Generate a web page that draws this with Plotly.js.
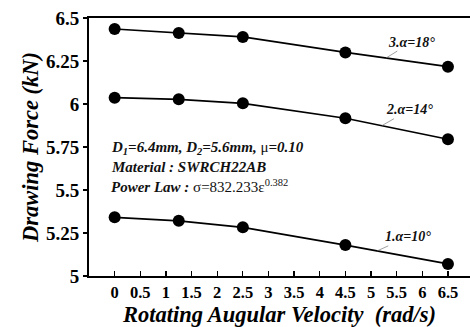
<!DOCTYPE html>
<html>
<head>
<meta charset="utf-8">
<script src="https://cdn.plot.ly/plotly-3.0.1.min.js"></script>
<style>html,body{margin:0;padding:0;background:#fff;}#chart{width:470px;height:327px;}</style>
</head>
<body>
<div id="chart"></div>
<script>
const velocity = [0, 1.25, 2.5, 4.5, 6.5];
const force10 = [5.341, 5.321, 5.283, 5.180, 5.070];
const force14 = [6.037, 6.027, 6.004, 5.917, 5.795];
const force18 = [6.436, 6.413, 6.390, 6.300, 6.217];
const seriesNames = ["1.α=10°", "2.α=14°", "3.α=18°"];
const xTicks = [0, 0.5, 1, 1.5, 2, 2.5, 3, 3.5, 4, 4.5, 5, 5.5, 6, 6.5];
const yTicks = [5, 5.25, 5.5, 5.75, 6, 6.25, 6.5];
const yTickText = ["5", "5.25", "5.5", "5.75", "6", "6.25", "6.5"];
const labelAnchors = [[5.12, 5.146], [5.21, 5.874], [5.29, 6.267]];
const labelOffsets = [[31, -14], [28, -16], [26, -16]];

const serif = "Liberation Serif";
const mk = (y, name) => ({
  x: velocity, y: y, name: name, type: "scatter", mode: "lines+markers",
  line: {color: "#000", width: 1.7},
  marker: {color: "#000", size: 12},
  showlegend: false
});
const data = [mk(force10, seriesNames[0]), mk(force14, seriesNames[1]), mk(force18, seriesNames[2])];

const plotL = 89, plotT = 18, plotB = 276, plotR = 470;
const annotations = [];
labelAnchors.forEach((p, i) => {
  annotations.push({
    x: p[0], y: p[1], xref: "x", yref: "y",
    text: "<b><i>" + seriesNames[i] + "</i></b>",
    showarrow: true, arrowhead: 0, arrowwidth: 0.7, arrowcolor: "#777",
    ax: labelOffsets[i][0], ay: labelOffsets[i][1], xanchor: "center", yanchor: "middle",
    font: {family: serif, size: 14, color: "#111"}
  });
});
const infoLines = [
  "<b><i>D<sub>1</sub>=6.4mm, D<sub>2</sub>=5.6mm, </i></b>μ<b><i>=0.10</i></b>",
  "<b><i>Material : SWRCH22AB</i></b>",
  "<b><i>Power Law : </i></b>σ=832.233ε<sup>0.382</sup>"
];
const infoY = [148, 167, 186];
infoLines.forEach((t, i) => {
  annotations.push({
    x: (109 - plotL) / (plotR - plotL), y: (plotB - infoY[i]) / (plotB - plotT),
    xref: "paper", yref: "paper",
    text: t, showarrow: false, xanchor: "left", yanchor: "middle",
    font: {family: serif, size: 15, color: "#111"}
  });
});

const layout = {
  width: 470, height: 327,
  margin: {l: plotL, r: 470 - plotR, t: plotT, b: 327 - plotB},
  paper_bgcolor: "#fff", plot_bgcolor: "#fff",
  font: {family: serif, color: "#000"},
  xaxis: {
    range: [-0.5, 6.93], tickvals: xTicks, ticktext: xTicks.map(v => "<b>" + v + "</b>"),
    showgrid: false, zeroline: false,
    showline: true, linecolor: "#000", linewidth: 2, mirror: true,
    ticks: "inside", ticklen: 5, tickwidth: 1.3, tickcolor: "#000",
    tickfont: {family: serif, size: 16.5, color: "#000"},
    title: {text: "<b><i>Rotating Augular Velocity  (rad/s)</i></b>", font: {family: serif, size: 22.5, color: "#000"}, standoff: 0}
  },
  yaxis: {
    range: [5, 6.5], tickvals: yTicks, ticktext: yTickText.map(v => "<b>" + v + "</b>"),
    showgrid: false, zeroline: false,
    showline: true, linecolor: "#000", linewidth: 2,
    ticks: "outside", ticklen: 4, tickwidth: 1.3, tickcolor: "#000",
    tickfont: {family: serif, size: 19, color: "#000"},
    title: {text: "<b><i>Drawing Force (kN)</i></b>", font: {family: serif, size: 22.5, color: "#000"}, standoff: 1}
  },
  annotations: annotations
};
Plotly.newPlot("chart", data, layout, {displayModeBar: false, staticPlot: true});
</script>
</body>
</html>
